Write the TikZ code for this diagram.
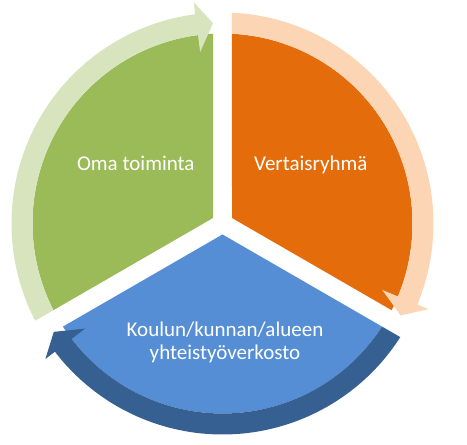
\documentclass[tikz,border=0pt]{standalone}
\usepackage{fontspec}
\setmainfont{Carlito}
\definecolor{segGreen}{RGB}{155,187,89}
\definecolor{arrGreen}{RGB}{215,228,189}
\definecolor{segOrange}{RGB}{228,108,10}
\definecolor{arrOrange}{RGB}{252,213,181}
\definecolor{segBlue}{RGB}{85,142,213}
\definecolor{arrBlue}{RGB}{54,96,146}
% #1 = lower bounding angle of the 120 degree sector, #2 = colour
\newcommand\cycSector[2]{%
  \pgfmathsetmacro\cycSA{#1+asin(9.5/190)}%
  \pgfmathsetmacro\cycSB{#1+120-asin(9.5/190)}%
  \pgfmathsetmacro\cycMid{#1+60}%
  \fill[#2] (\cycMid:10.97pt) -- (\cycSA:190pt)
    arc[start angle=\cycSA, end angle=\cycSB, radius=190pt] -- cycle;}
\newcommand\cycArrow[2]{%
  \pgfmathsetmacro\cycSI{#1+120-asin(9.5/190)}%
  \pgfmathsetmacro\cycSO{#1+120-asin(9.5/211)}%
  \pgfmathsetmacro\cycTP{#1+asin(9.5/200.5)}%
  \pgfmathsetmacro\cycBK{\cycTP+4.7}%
  \fill[#2] (\cycSO:211pt) arc[start angle=\cycSO, end angle=\cycBK, radius=211pt]
    -- (\cycBK:223pt) -- (\cycTP:200.5pt) -- (\cycBK:173pt) -- (\cycBK:190pt)
    arc[start angle=\cycBK, end angle=\cycSI, radius=190pt] -- cycle;}
\tikzset{lbl/.style={text=white, inner sep=0pt, anchor=base, font=\fontsize{21}{25}\selectfont}}
\begin{document}
\begin{tikzpicture}[x=1pt,y=1pt]
\useasboundingbox (0,0) rectangle (467,445);
\fill[white] (0,0) rectangle (467,445);
\begin{scope}[shift={(222.5,221.5)}]
  \cycSector{90}{segGreen}
  \cycSector{-30}{segOrange}
  \cycSector{210}{segBlue}
  \cycArrow{90}{arrGreen}
  \cycArrow{-30}{arrOrange}
  \cycArrow{210}{arrBlue}
\end{scope}
\node[lbl] (oma) at (135.8,274) {Oma toiminta};
\node[lbl] (vertais) at (310.8,274) {Vertaisryhmä};
\node[lbl] (koulu1) at (225,108.3) {Koulun/kunnan/alueen};
\node[lbl] (koulu2) at (225,85.7) {yhteistyöverkosto};
\end{tikzpicture}
\end{document}
